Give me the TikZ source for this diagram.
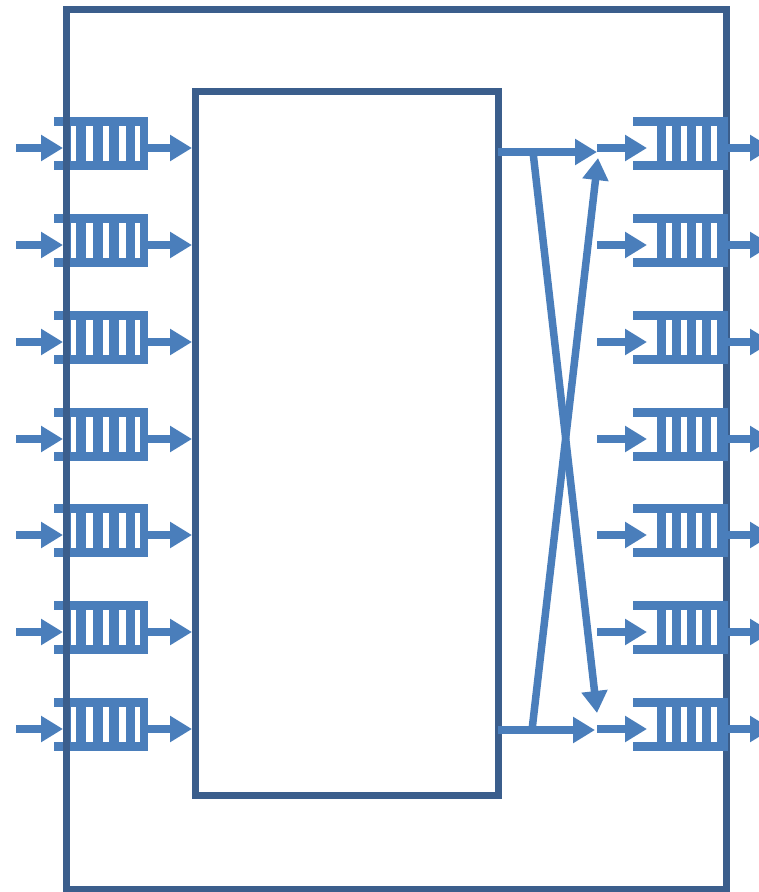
\documentclass[tikz,border=0pt]{standalone}
\usetikzlibrary{arrows.meta}
\definecolor{boxc}{HTML}{3B5E8C}
\definecolor{qc}{HTML}{4A7EBB}
\begin{document}
\begin{tikzpicture}[x=1pt,y=-1pt,
  box/.style={draw=boxc, line width=7pt, inner sep=0pt, outer sep=0pt},
  flow/.style={draw=qc, line width=7.5pt, -{Triangle[length=22pt,width=25pt]}},
  lqueue/.pic={
    \fill[qc] (-12,-26.5) rectangle (82,-17.5);
    \fill[qc] (-12,17.5) rectangle (82,26.5);
    \foreach \a/\b in {-3/4.5,9.5/19.5,26.5/36.5,43/52.5,59.5/68.5,73.5/82}
      \fill[qc] (\a,-18) rectangle (\b,18);
  },
  rqueue/.pic={
    \fill[qc] (0,-26.5) rectangle (95,-17.5);
    \fill[qc] (0,17.5) rectangle (95,26.5);
    \foreach \a/\b in {23.5/32.5,38.5/47.5,53.5/62.5,68.5/77.5,83.5/95}
      \fill[qc] (\a,-18) rectangle (\b,18);
  }]
\useasboundingbox (0,0) rectangle (759,892);
\clip (0,0) rectangle (759,892);
% left queues
\foreach \i/\y in {1/148,2/245,3/342,4/439,5/535,6/632,7/729}{
  \pic at (66,{\y-4.5}) {lqueue};
  \coordinate (lin\i) at (16,\y);
  \coordinate (lq\i) at (63,\y);
  \coordinate (lout\i) at (148,\y);
  \coordinate (core\i) at (192,\y);
  \draw[flow] (lin\i) -- (lq\i);
  \draw[flow] (lout\i) -- (core\i);
}
% frames
\node[box, minimum width=659.5, minimum height=880] (frame) at (396.25,449) {};
\node[box, minimum width=303, minimum height=704] (core) at (346.5,443.5) {};
% crossing
\coordinate (t0) at (498,152);
\coordinate (t1) at (597,152);
\coordinate (b0) at (498,730);
\coordinate (b1) at (595,730);
\coordinate (d1s) at (533,152);
\coordinate (d1e) at (597,713);
\coordinate (d2s) at (532,730);
\coordinate (d2e) at (598,158);
\draw[flow] (t0) -- (t1);
\draw[flow] (b0) -- (b1);
\draw[flow] (d1s) -- (d1e);
\draw[flow] (d2s) -- (d2e);
% right queues
\foreach \i/\y in {1/148,2/245,3/342,4/439,5/535,6/632,7/729}{
  \pic at (633,{\y-4.5}) {rqueue};
  \coordinate (rin\i) at (597,\y);
  \coordinate (rq\i) at (647,\y);
  \coordinate (rout\i) at (728,\y);
  \coordinate (rend\i) at (772,\y);
  \draw[flow] (rin\i) -- (rq\i);
  \draw[flow] (rout\i) -- (rend\i);
}
\end{tikzpicture}
\end{document}
